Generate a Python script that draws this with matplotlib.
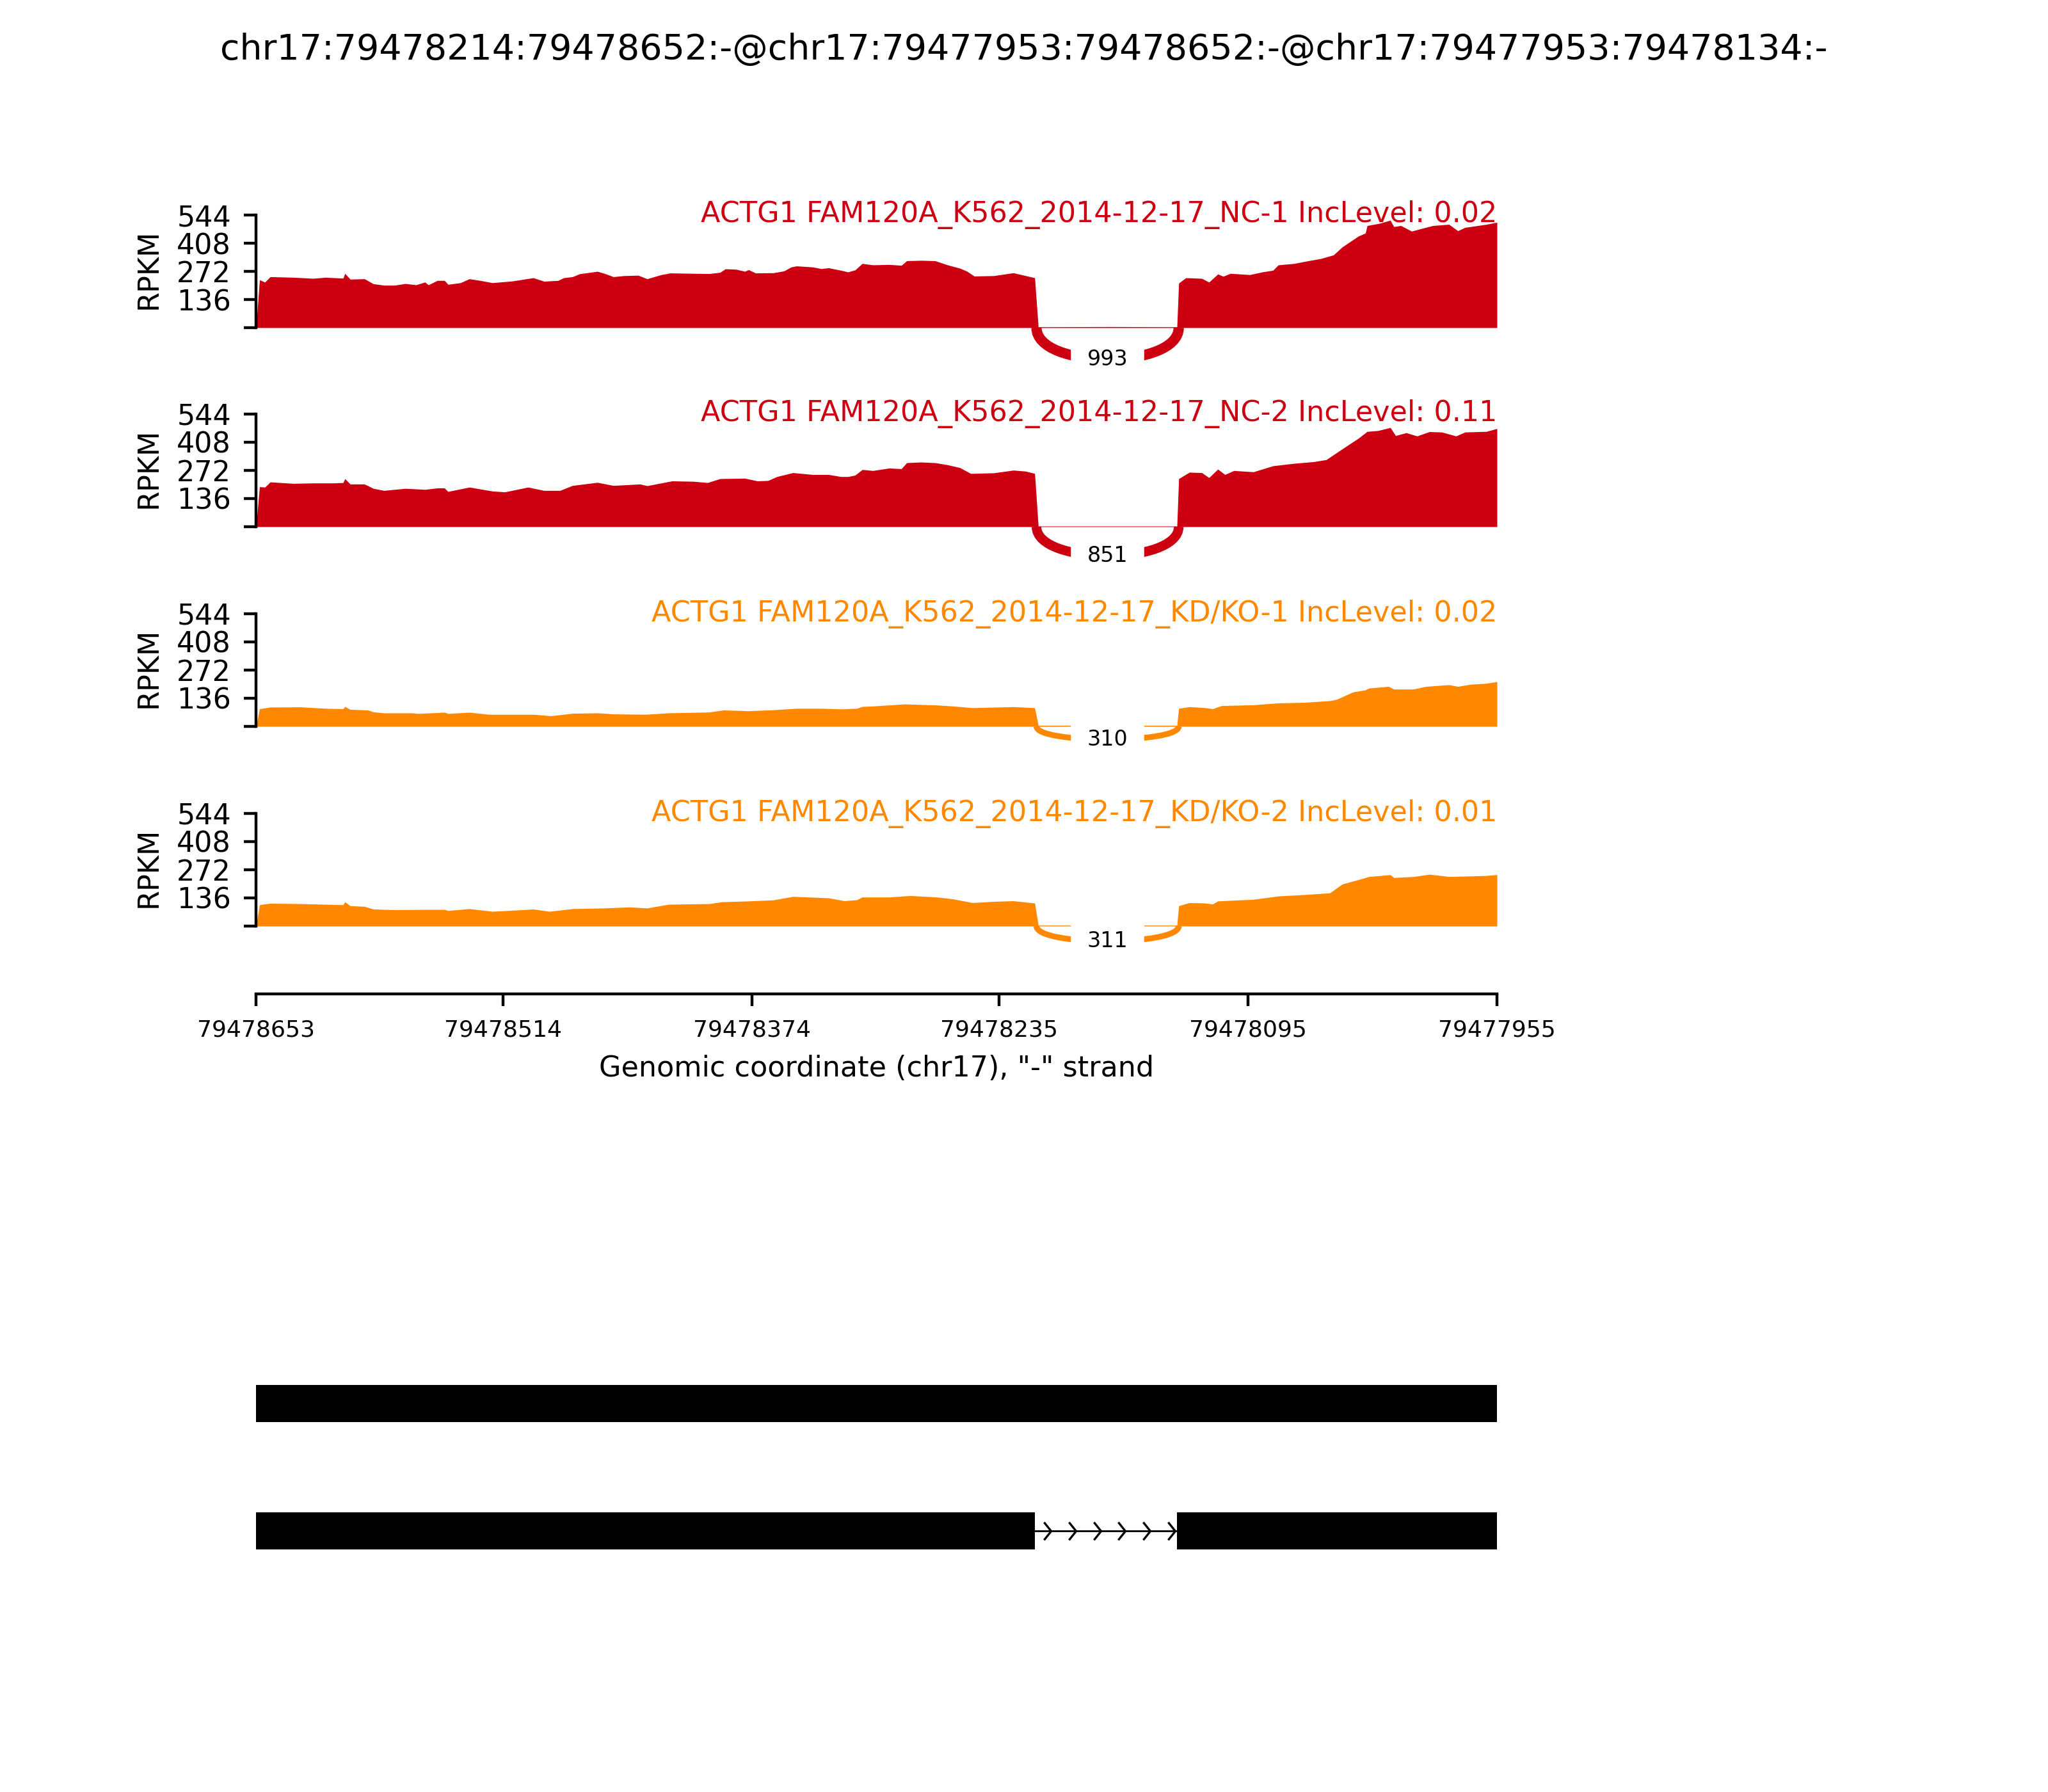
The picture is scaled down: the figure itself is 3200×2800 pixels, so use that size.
import numpy as np
import matplotlib
matplotlib.use("Agg")
import matplotlib.pyplot as plt
from matplotlib.path import Path
from matplotlib.patches import PathPatch, Rectangle

title = "chr17:79478214:79478652:-@chr17:79477953:79478652:-@chr17:79477953:79478134:-"

# "-" strand: genomic coordinate decreases from left to right
region_left = 79478653
region_right = 79477955
xtick_labels = ["79478653", "79478514", "79478374", "79478235", "79478095", "79477955"]

sample_names = ["ACTG1 FAM120A_K562_2014-12-17_NC-1",
                "ACTG1 FAM120A_K562_2014-12-17_NC-2",
                "ACTG1 FAM120A_K562_2014-12-17_KD/KO-1",
                "ACTG1 FAM120A_K562_2014-12-17_KD/KO-2"]
inc_levels = ["0.02", "0.11", "0.02", "0.01"]
sample_colors = ["#CC0011", "#CC0011", "#FF8800", "#FF8800"]

# skipped-intron junction (exon boundary bases) and read counts per sample
junction = (79478214, 79478134)
junction_counts = [993, 851, 310, 311]

ymax = 544
yticks = [0, 136, 272, 408, 544]

# coverage: distance (bp) from region_left -> RPKM
nc1_dist = [0, 2, 5, 8, 21, 28, 32, 39, 49, 50, 53, 61, 66, 72, 78, 84, 90, 95, 97,
            102, 106, 108, 115, 120, 126, 133, 144, 156, 162, 170, 173, 178, 182,
            192, 196, 201, 207, 215, 220, 228, 233, 246, 255, 261, 264, 270, 275,
            277, 281, 291, 297, 301, 304, 313, 318, 322, 329, 333, 337, 341, 347,
            356, 363, 366, 374, 382, 389, 396, 400, 404, 415, 426, 433, 438, 440,
            480, 518, 519, 523, 532, 536, 541, 544, 548, 559, 566, 572, 575, 584,
            590, 599, 606, 611, 615, 620, 624, 625, 632, 638, 640, 644, 650, 656,
            662, 671, 676, 680, 692, 698]
nc1_rpkm = [0, 231, 220, 246, 243, 240, 238, 243, 239, 262, 234, 236, 212, 205, 205,
            213, 207, 220, 207, 228, 228, 209, 217, 236, 228, 217, 225, 241, 224,
            228, 241, 246, 260, 272, 262, 246, 251, 253, 236, 256, 264, 262, 261,
            267, 284, 282, 272, 280, 264, 265, 274, 293, 298, 293, 285, 289, 277,
            269, 279, 310, 303, 305, 301, 323, 325, 323, 303, 287, 272, 249, 251,
            265, 251, 241, 4, 5, 4, 215, 241, 238, 220, 259, 248, 262, 256, 269,
            277, 303, 310, 320, 334, 351, 390, 413, 442, 457, 493, 504, 519, 488,
            493, 466, 480, 493, 499, 468, 484, 499, 509]

nc2_dist = [0, 2, 5, 8, 21, 32, 43, 49, 50, 53, 61, 66, 72, 84, 95, 102, 106, 108,
            120, 133, 140, 153, 162, 171, 178, 192, 201, 216, 220, 234, 246, 254,
            261, 275, 282, 288, 293, 302, 313, 322, 329, 333, 337, 341, 347, 356,
            363, 366, 374, 382, 389, 396, 402, 415, 426, 433, 438, 440, 518, 519,
            525, 532, 536, 541, 545, 550, 561, 572, 584, 595, 602, 611, 620, 625,
            631, 638, 641, 647, 653, 660, 667, 675, 680, 692, 698]
nc2_rpkm = [0, 193, 191, 216, 209, 211, 211, 213, 232, 206, 206, 185, 175, 185, 180,
            187, 187, 170, 191, 172, 168, 191, 175, 175, 199, 214, 199, 206, 198,
            221, 219, 213, 232, 234, 221, 223, 242, 261, 252, 252, 242, 242, 249,
            276, 271, 283, 280, 309, 312, 309, 299, 285, 257, 260, 273, 268, 257,
            3, 3, 232, 263, 261, 237, 278, 252, 271, 265, 294, 306, 314, 324, 376,
            427, 460, 464, 479, 440, 454, 438, 459, 457, 438, 457, 460, 474]

kd1_dist = [0, 2, 8, 25, 39, 49, 50, 53, 63, 66, 72, 88, 91, 106, 108, 120, 131, 156,
            166, 178, 192, 201, 219, 232, 255, 263, 277, 291, 304, 318, 329, 338,
            341, 347, 356, 365, 383, 392, 403, 426, 438, 440, 518, 519, 525, 534,
            538, 543, 561, 575, 590, 604, 608, 617, 624, 626, 637, 640, 651, 658,
            671, 676, 683, 692, 698]
kd1_rpkm = [0, 85, 93, 94, 87, 85, 96, 82, 79, 70, 65, 65, 62, 68, 62, 68, 58, 58, 51,
            63, 65, 60, 58, 65, 69, 79, 75, 80, 87, 87, 84, 87, 96, 98, 103, 108,
            103, 98, 90, 95, 90, 5, 5, 87, 95, 90, 85, 100, 104, 113, 116, 124, 131,
            166, 176, 185, 193, 180, 180, 193, 201, 193, 203, 208, 216]

kd2_dist = [0, 2, 8, 25, 39, 49, 50, 53, 61, 66, 77, 93, 106, 108, 120, 133, 144,
            156, 165, 178, 196, 210, 220, 232, 255, 262, 277, 291, 302, 322, 331,
            338, 341, 347, 356, 368, 383, 392, 403, 415, 426, 438, 440, 518, 519,
            525, 534, 538, 541, 561, 575, 590, 604, 611, 620, 626, 638, 640, 651,
            660, 671, 680, 692, 698]
kd2_rpkm = [0, 103, 110, 108, 105, 103, 117, 98, 95, 82, 79, 80, 80, 75, 84, 71, 76,
            82, 71, 84, 87, 92, 87, 105, 108, 117, 121, 126, 143, 136, 122, 127, 140,
            140, 140, 147, 140, 131, 113, 119, 122, 111, 4, 4, 98, 113, 111, 106, 121,
            129, 145, 152, 160, 203, 224, 239, 248, 234, 239, 250, 239, 241, 244, 248]

coverage = [(nc1_dist, nc1_rpkm), (nc2_dist, nc2_rpkm),
            (kd1_dist, kd1_rpkm), (kd2_dist, kd2_rpkm)]

# gene models, 1-based inclusive exons
transcripts = [
    [(79477954, 79478652)],
    [(79477954, 79478134), (79478215, 79478652)],
]

W, H = 3200, 2800
fig = plt.figure(figsize=(8, 7), dpi=400)
fig.suptitle(title, fontsize=10, y=0.972, va="center")

left = 400 / W
width = 1939 / W
baselines = [512, 823, 1135, 1447]
track_px = 176
ymin = -328
below_px = -ymin * track_px / ymax

for i in range(4):
    dist, rpkm = coverage[i]
    color = sample_colors[i]
    top_px = baselines[i] - track_px
    bot_px = baselines[i] + below_px
    ax = fig.add_axes([left, 1 - bot_px / H, width, (bot_px - top_px) / H])

    x = region_left - np.array(dist)
    y = np.array(rpkm)
    ax.fill_between(x, y, 0, color=color, lw=0)

    # junction arc below the track
    h = 0.39 * y.max()
    ss1, ss2 = junction
    pts = [(ss1, 0), (ss1, -h), (ss2, -h), (ss2, 0)]
    arc = Path(pts, [Path.MOVETO, Path.CURVE4, Path.CURVE4, Path.CURVE4])
    lw = 2.9 * np.sqrt(junction_counts[i] / max(junction_counts))
    ax.add_patch(PathPatch(arc, ec=color, fc="none", lw=lw))
    ax.text((ss1 + ss2) / 2, -0.75 * h, str(junction_counts[i]), fontsize=6,
            ha="center", va="center", backgroundcolor="w")

    ax.text(region_right, ymax, sample_names[i] + " IncLevel: " + inc_levels[i],
            color=color, fontsize=8, ha="right", va="center")

    ax.set_xlim(region_left, region_right)
    ax.set_ylim(ymin, ymax)
    ax.set_yticks(yticks)
    ax.set_yticklabels([""] + [str(t) for t in yticks[1:]], fontsize=8)
    ax.set_ylabel("RPKM", fontsize=8)
    ax.yaxis.label.set_y((ymax / 2 + 10 - ymin) / (ymax - ymin))
    ax.spines["left"].set_bounds(0, ymax)
    ax.spines["top"].set_visible(False)
    ax.spines["right"].set_visible(False)
    if i < 3:
        ax.spines["bottom"].set_visible(False)
        ax.set_xticks([])
    else:
        ax.set_xticks([int(t) for t in xtick_labels])
        ax.set_xticklabels(xtick_labels, fontsize=6.5)
        ax.set_xlabel('Genomic coordinate (chr17), "-" strand', fontsize=8)

# gene model panel
row_gap = 199
gax = fig.add_axes([left, 1 - (2392 + row_gap) / H, width, 3 * row_gap / H])
gax.set_xlim(region_left, region_right)
gax.set_ylim(-2, 1)
gax.axis("off")
half = 0.148
chevron = Path([(-0.8, 1), (0, 0), (-0.8, -1)], [Path.MOVETO, Path.LINETO, Path.LINETO])
for row, exons in enumerate(transcripts):
    yc = -row
    exons = sorted(exons)
    for s, e in exons:
        gax.add_patch(Rectangle((s, yc - half), e + 1 - s, 2 * half, fc="black", ec="none"))
    for (s1, e1), (s2, e2) in zip(exons[:-1], exons[1:]):
        gax.plot([e1 + 1, s2], [yc, yc], color="black", lw=0.5)
        tips = np.arange(e1 + 2, s2, 14)
        gax.plot(tips, [yc] * len(tips), ls="none", marker=chevron, markersize=5,
                 mfc="none", mec="black", mew=0.6)

fig.savefig("out.png", dpi=400)
